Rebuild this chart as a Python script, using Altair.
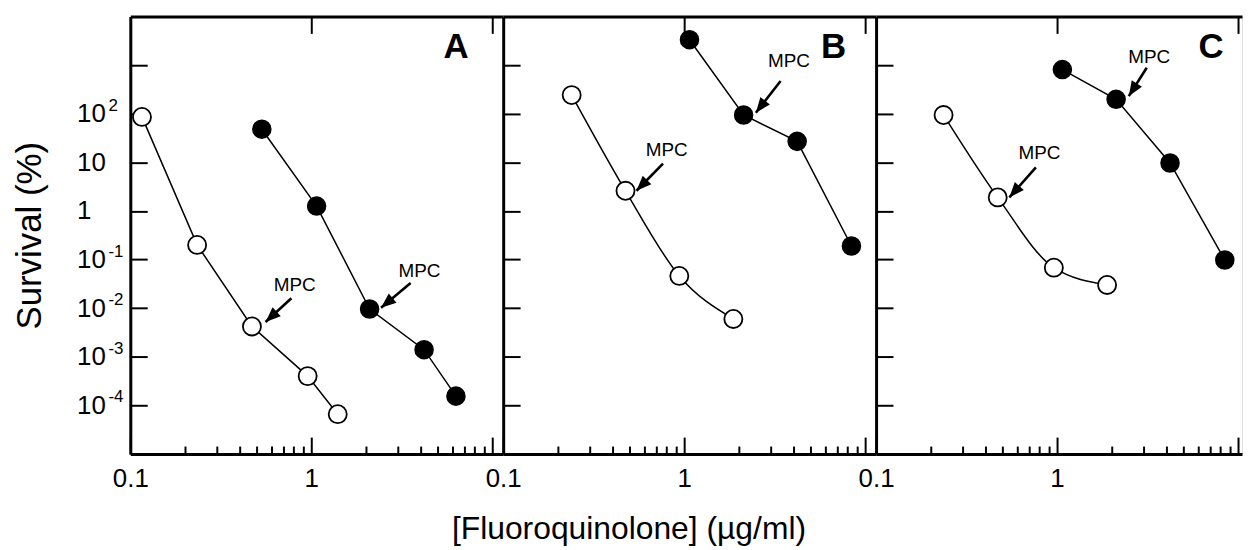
import math
import altair as alt
import pandas as pd

FONT = "Liberation Sans"

# ---------------- data ----------------
a_open_x = [0.116, 0.234, 0.47, 0.955, 1.40]
a_open_y = [86, 0.20, 0.0042, 4.0e-4, 6.6e-5]
a_fill_x = [0.533, 1.07, 2.1, 4.2, 6.3]
a_fill_y = [48, 1.26, 0.0096, 0.0014, 1.55e-4]

b_open_x = [0.239, 0.474, 0.94, 1.87]
b_open_y = [242, 2.6, 0.046, 0.006]
b_fill_x = [1.07, 2.13, 4.21, 8.4]
b_fill_y = [3330, 94, 27, 0.19]

c_open_x = [0.236, 0.47, 0.96, 1.89]
c_open_y = [94, 1.9, 0.068, 0.030]
c_fill_x = [1.07, 2.12, 4.21, 8.45]
c_fill_y = [810, 198, 9.7, 0.098]

# MPC annotations: text position, arrow tail, arrow tip
a_mpc_text_x = [0.81, 3.96]
a_mpc_text_y = [0.030, 0.059]
a_mpc_tail_x = [0.776, 3.54]
a_mpc_tail_y = [0.016, 0.033]
a_mpc_tip_x = [0.559, 2.43]
a_mpc_tip_y = [0.0052, 0.0102]

b_mpc_text_x = [0.80, 3.79]
b_mpc_text_y = [18, 1200]
b_mpc_tail_x = [0.764, 3.41]
b_mpc_tail_y = [9.4, 470]
b_mpc_tip_x = [0.545, 2.49]
b_mpc_tip_y = [2.6, 105]

c_mpc_text_x = [0.80, 3.23]
c_mpc_text_y = [15.6, 1450]
c_mpc_tail_x = [0.764, 3.13]
c_mpc_tail_y = [7.9, 880]
c_mpc_tip_x = [0.545, 2.49]
c_mpc_tip_y = [1.9, 230]

panel_letters = ["A", "B", "C"]
letter_x = [6.3, 6.7, 7.1]
letter_y = [2300, 2300, 2300]

x_major_ticks = [0.1, 1, 10]
x_label_ticks = [0.1, 1]
x_minor_ticks = [0.2, 0.3, 0.4, 0.5, 0.6, 0.7, 0.8, 0.9, 2, 3, 4, 5, 6, 7, 8, 9]
y_ticks = [1e-4, 1e-3, 1e-2, 1e-1, 1, 10, 100, 1000]
y_label_values = [1e-4, 1e-3, 1e-2, 1e-1, 1, 10, 100]
y_label_base = ["10", "10", "10", "10", "1", "10", "10"]
y_exp_values = [1e-4, 1e-3, 1e-2, 1e-1, 100]
y_exp_text = ["-4", "-3", "-2", "-1", "2"]

x_title = "[Fluoroquinolone] (µg/ml)"
y_title = "Survival (%)"

# ---------------- layout ----------------
H = 440
W_FULL = 375
W_C = 368
DEC_PX = 182.0  # pixels per decade on x
Y_DOMAIN = [1e-5, 1e4]
Y_DEC_PX = H / 9.0

label_expr = "[" + ",".join("'%s'" % t for t in y_label_base) + "][round(log(datum.value)/LN10)+4]"


def arrow_angle(tx, ty, px, py):
    dx = (math.log10(px) - math.log10(tx)) * DEC_PX
    dy = -(math.log10(py) - math.log10(ty)) * Y_DEC_PX
    return (math.degrees(math.atan2(dx, -dy)) + 360) % 360


ARROW = "M0,0L-0.8,2L0.8,2Z"


def panel(idx, ox, oy, fx, fy, mtx, mty, tlx, tly, tpx, tpy, width, first, xtitle, interp_open):
    xmax = 0.1 * 10 ** (width / DEC_PX)
    xs = alt.Scale(type="log", domain=[0.1, xmax], nice=False)
    ys = alt.Scale(type="log", domain=Y_DOMAIN, nice=False)

    open_df = pd.DataFrame({"x": ox, "y": oy})
    fill_df = pd.DataFrame({"x": fx, "y": fy})
    ann = pd.DataFrame({
        "tx": mtx, "ty": mty, "lx": tlx, "ly": tly, "px": tpx, "py": tpy,
        "label": ["MPC"] * len(mtx),
    })
    ann["ang"] = [arrow_angle(a, b, c, d) for a, b, c, d in zip(tlx, tly, tpx, tpy)]
    let_df = pd.DataFrame({"x": [letter_x[idx]], "y": [letter_y[idx]], "t": [panel_letters[idx]]})

    # axes
    ax_labels = alt.Axis(
        orient="bottom", values=x_label_ticks, format="~g", ticks=False,
        domain=True, domainWidth=3, domainColor="black", grid=False,
        labelFont=FONT, labelFontSize=26, labelColor="black", labelPadding=12,
        labelFlush=False, labelOverlap=False, labelBound=False,
        titleFont=FONT, titleFontSize=32, titleFontWeight="normal", titleColor="black",
        titlePadding=22, titleX=126, titleAlign="center",
    )
    if first:
        ay_left = alt.Axis(
            orient="left", values=y_label_values, labelExpr=label_expr, ticks=False,
            domain=True, domainWidth=3, domainColor="black", grid=False,
            labelFont=FONT, labelFontSize=26, labelColor="black", labelPadding=54,
            labelAlign="left", labelFlush=False, labelOverlap=False,
            titleFont=FONT, titleFontSize=35, titleFontWeight="normal", titleColor="black",
            titlePadding=29,
        )
    else:
        ay_left = alt.Axis(
            orient="left", values=y_label_values, labels=False, ticks=False,
            domain=True, domainWidth=3, domainColor="black", grid=False,
        )
    ax_major_in = alt.Axis(
        orient="top", offset=-H, values=x_major_ticks, labels=False, domain=False,
        ticks=True, tickSize=17, tickWidth=2, tickColor="black", grid=False,
    )
    ay_ticks = alt.Axis(
        orient="right", offset=-width, values=y_ticks, labels=False, domain=False,
        ticks=True, tickSize=17, tickWidth=2, tickColor="black", grid=False,
    )
    ax_minor = alt.Axis(
        orient="top", offset=-H, values=x_minor_ticks, labels=False, domain=False,
        ticks=True, tickSize=8, tickWidth=2, tickColor="black", grid=False,
    )
    ax_top = alt.Axis(
        orient="bottom", offset=-H, values=[1, 10], labels=False, domain=True,
        domainWidth=3, domainColor="black",
        ticks=True, tickSize=17, tickWidth=2, tickColor="black", grid=False,
    )

    l_open = alt.Chart(open_df).mark_line(color="black", strokeWidth=1.5, interpolate=interp_open).encode(
        x=alt.X("x:Q", scale=xs, axis=ax_labels, title=xtitle),
        y=alt.Y("y:Q", scale=ys, axis=ay_left, title=y_title if first else None),
    )
    l_fill = alt.Chart(fill_df).mark_line(color="black", strokeWidth=1.5).encode(
        x=alt.X("x:Q", scale=xs, axis=ax_major_in, title=None),
        y=alt.Y("y:Q", scale=ys, axis=ay_ticks, title=None),
    )
    p_open = alt.Chart(open_df).mark_point(
        shape="circle", filled=True, fill="white", stroke="black", strokeWidth=1.8, size=330, opacity=1
    ).encode(
        x=alt.X("x:Q", scale=xs, axis=ax_minor, title=None),
        y=alt.Y("y:Q", scale=ys, axis=None),
    )
    p_fill = alt.Chart(fill_df).mark_point(
        shape="circle", filled=True, fill="black", stroke="black", strokeWidth=1.5, size=330, opacity=1
    ).encode(
        x=alt.X("x:Q", scale=xs, axis=ax_top, title=None),
        y=alt.Y("y:Q", scale=ys, axis=None),
    )
    a_line = alt.Chart(ann).mark_rule(color="black", strokeWidth=2.6).encode(
        x=alt.X("lx:Q", scale=xs, axis=None), y=alt.Y("ly:Q", scale=ys, axis=None),
        x2="px:Q", y2="py:Q",
    )
    a_head = alt.Chart(ann).mark_point(
        shape=ARROW, filled=True, fill="black", strokeWidth=0, size=230, opacity=1
    ).encode(
        x=alt.X("px:Q", scale=xs, axis=None), y=alt.Y("py:Q", scale=ys, axis=None),
        angle=alt.Angle("ang:Q", scale=None),
    )
    a_text = alt.Chart(ann).mark_text(font=FONT, fontSize=19, color="black").encode(
        x=alt.X("tx:Q", scale=xs, axis=None), y=alt.Y("ty:Q", scale=ys, axis=None),
        text="label:N",
    )
    let = alt.Chart(let_df).mark_text(font=FONT, fontSize=35, fontWeight="bold", color="black").encode(
        x=alt.X("x:Q", scale=xs, axis=None), y=alt.Y("y:Q", scale=ys, axis=None),
        text="t:N",
    )
    layers = [l_open, l_fill, p_open, p_fill, a_line, a_head, a_text, let]
    if first:
        exp_df = pd.DataFrame({"y": y_exp_values, "t": y_exp_text})
        exps = alt.Chart(exp_df).mark_text(
            font=FONT, fontSize=17, color="black", align="left", baseline="middle", dx=-22, dy=-8
        ).encode(
            x=alt.datum(0.1, scale=xs, axis=None),
            y=alt.Y("y:Q", scale=ys, axis=None),
            text="t:N",
        )
        layers.append(exps)
    return (
        alt.layer(*layers)
        .resolve_axis(x="independent", y="independent")
        .properties(width=width, height=H)
    )


pA = panel(0, a_open_x, a_open_y, a_fill_x, a_fill_y, a_mpc_text_x, a_mpc_text_y,
           a_mpc_tail_x, a_mpc_tail_y, a_mpc_tip_x, a_mpc_tip_y, W_FULL, True, None, "linear")
pB = panel(1, b_open_x, b_open_y, b_fill_x, b_fill_y, b_mpc_text_x, b_mpc_text_y,
           b_mpc_tail_x, b_mpc_tail_y, b_mpc_tip_x, b_mpc_tip_y, W_FULL, False, x_title, "monotone")
pC = panel(2, c_open_x, c_open_y, c_fill_x, c_fill_y, c_mpc_text_x, c_mpc_text_y,
           c_mpc_tail_x, c_mpc_tail_y, c_mpc_tip_x, c_mpc_tip_y, W_C, False, None, "monotone")

chart = (
    alt.hconcat(pA, pB, pC, spacing=0, bounds="flush")
    .properties(padding={"left": 4, "top": 5, "right": 0, "bottom": 2})
    .configure_view(strokeWidth=0)
    .configure(background="white")
)

chart.save("out.html", embed_options={"renderer": "svg", "actions": False})
